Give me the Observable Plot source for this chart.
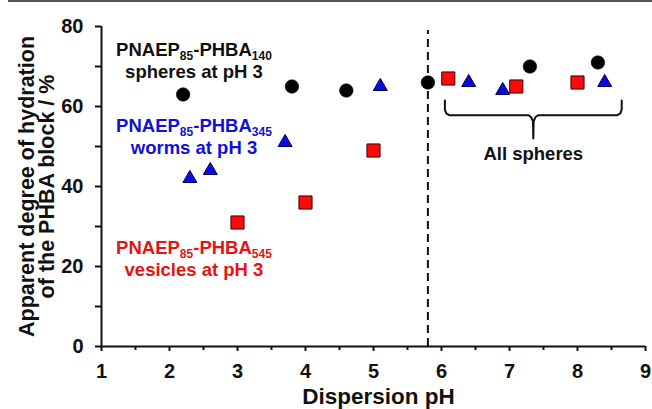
<!DOCTYPE html>
<html>
<head>
<meta charset="utf-8">
<script src="https://cdn.jsdelivr.net/npm/d3@7"></script>
<script src="https://cdn.jsdelivr.net/npm/@observablehq/plot@0.6"></script>
<style>
  body { margin: 0; background: #fff; }
  #wrap { position: relative; width: 652px; height: 409px; overflow: hidden; }
  #topline { position: absolute; left: 8px; right: 0; top: 0; height: 2px; background: #555; }
  svg text { font-family: "Liberation Sans", Arial, sans-serif; font-weight: bold; }
</style>
</head>
<body>
<div id="wrap"><div id="topline"></div></div>
<script>
// Spheres PNAEP85-PHBA140
const spheresPH = [2.2, 3.8, 4.6, 5.8, 7.3, 8.3];
const spheresHyd = [63, 65, 64, 66, 70, 71];
// Worms PNAEP85-PHBA345
const wormsPH = [2.3, 2.6, 3.7, 5.1, 6.4, 6.9, 8.4];
const wormsHyd = [42, 44, 51, 65, 66, 64, 66];
// Vesicles PNAEP85-PHBA545
const vesiclesPH = [3.0, 4.0, 5.0, 6.1, 7.1, 8.0];
const vesiclesHyd = [31, 36, 49, 67, 65, 66];

const xTicks = [1, 2, 3, 4, 5, 6, 7, 8, 9];
const xMinorTicks = [1.5, 2.5, 3.5, 4.5, 5.5, 6.5, 7.5, 8.5];
const yTicks = [0, 20, 40, 60, 80];
const yMinorTicks = [10, 30, 50, 70];

const transitionPH = 5.8;
const transitionTop = 79;

// annotation labels (sub-scripts written as _{..})
const annotLines = ["PNAEP_{85}-PHBA_{140}", "spheres at pH 3",
                    "PNAEP_{85}-PHBA_{345}", "worms at pH 3",
                    "PNAEP_{85}-PHBA_{545}", "vesicles at pH 3"];
const annotX = [2.36, 2.36, 2.36, 2.36, 2.36, 2.36];
const annotY = [74, 68.5, 55, 49.6, 24.5, 19];
const annotColor = ["#111", "#111", "#1010d8", "#1010d8", "#e81212", "#e81212"];

// brace over the "all spheres" region
const braceX = [6.05, 6.05, 6.07, 6.12, 7.28, 7.32, 7.345, 7.35, 7.355, 7.38, 7.42, 8.58, 8.63, 8.65, 8.65];
const braceY = [61.5, 59.2, 58.3, 57.8, 57.8, 57.3, 56.3, 52, 56.3, 57.3, 57.8, 57.8, 58.3, 59.2, 61.5];
const braceLabel = "All spheres";
const braceLabelX = 7.35;
const braceLabelY = 48;

const xTitle = "Dispersion pH";
const yTitle1 = "Apparent degree of hydration";
const yTitle2 = "of the PHBA block / %";

const spheres = spheresPH.map((x, i) => ({x, y: spheresHyd[i]}));
const worms = wormsPH.map((x, i) => ({x, y: wormsHyd[i]}));
const vesicles = vesiclesPH.map((x, i) => ({x, y: vesiclesHyd[i]}));
const annots = annotLines.map((t, i) => ({t, x: annotX[i], y: annotY[i], c: annotColor[i]}));
const brace = braceX.map((x, i) => ({x, y: braceY[i]}));

const chart = Plot.plot({
  width: 652,
  height: 409,
  marginLeft: 101,
  marginRight: 7,
  marginTop: 26,
  marginBottom: 63,
  x: {domain: [1, 9]},
  y: {domain: [0, 80]},
  style: {fontFamily: "Liberation Sans, Arial, sans-serif", background: "transparent", color: "#111"},
  marks: [
    Plot.axisX(xTicks, {tickSize: 5, tickPadding: 12, fontSize: 20, fontWeight: "bold", strokeWidth: 2, label: null, tickFormat: d => String(d)}),
    Plot.axisX(xMinorTicks, {tickSize: 4, strokeWidth: 2, label: null, tickFormat: () => ""}),
    Plot.axisY(yTicks, {tickSize: 6, tickPadding: 12, fontSize: 20, fontWeight: "bold", strokeWidth: 2, label: null, tickFormat: d => String(d)}),
    Plot.axisY(yMinorTicks, {tickSize: 6, strokeWidth: 2, label: null, tickFormat: () => ""}),
    Plot.ruleY([0], {stroke: "#111", strokeWidth: 2}),
    Plot.ruleX([1], {stroke: "#111", strokeWidth: 2}),
    Plot.ruleX([transitionPH], {y1: 0, y2: transitionTop, stroke: "#111", strokeWidth: 2, strokeDasharray: "8,5"}),
    Plot.line(brace, {x: "x", y: "y", stroke: "#111", strokeWidth: 2, strokeLinejoin: "round"}),
    Plot.text([braceLabel], {x: braceLabelX, y: braceLabelY, text: d => d, fontSize: 18.5, fontWeight: "bold", fill: "#111"}),
    Plot.dot(spheres, {x: "x", y: "y", symbol: "circle", r: 6.8, fill: "#000", stroke: "#000", strokeWidth: 0.5}),
    Plot.dot(vesicles, {x: "x", y: "y", symbol: "square", r: 7.4, fill: "#ff0a0a", stroke: "#3a0000", strokeWidth: 1}),
    Plot.dot(worms, {x: "x", y: "y", symbol: "triangle", r: 5.2, fill: "#0a0ae6", stroke: "#000033", strokeWidth: 1}),
    Plot.text(annots, {x: "x", y: "y", text: "t", fill: "c", fontSize: 18.5, fontWeight: "bold", className: "annot"}),
    Plot.text([yTitle1], {frameAnchor: "left", textAnchor: "middle", lineAnchor: "middle", text: d => d, rotate: -90, dx: -74, fontSize: 21.5, fontWeight: "bold", fill: "#111"}),
    Plot.text([yTitle2], {frameAnchor: "left", textAnchor: "middle", lineAnchor: "middle", text: d => d, rotate: -90, dx: -54, fontSize: 21.5, fontWeight: "bold", fill: "#111"}),
    Plot.text([xTitle], {frameAnchor: "bottom", lineAnchor: "middle", text: d => d, dy: 50, dx: 5, fontSize: 22.5, fontWeight: "bold", fill: "#111"})
  ]
});

// convert _{..} into subscript tspans
d3.select(chart).selectAll("g.annot text").each(function() {
  const el = d3.select(this);
  const s = el.text();
  el.text(null);
  const parts = s.split(/(_\{[^}]*\})/);
  let sub = false;
  for (const p of parts) {
    if (!p) continue;
    const m = p.match(/^_\{([^}]*)\}$/);
    if (m) {
      el.append("tspan").attr("font-size", "12px").attr("dy", sub ? 0 : "4").text(m[1]);
      sub = true;
    } else {
      el.append("tspan").attr("dy", sub ? "-4" : 0).text(p);
      sub = false;
    }
  }
});

document.getElementById("wrap").appendChild(chart);
</script>
</body>
</html>
